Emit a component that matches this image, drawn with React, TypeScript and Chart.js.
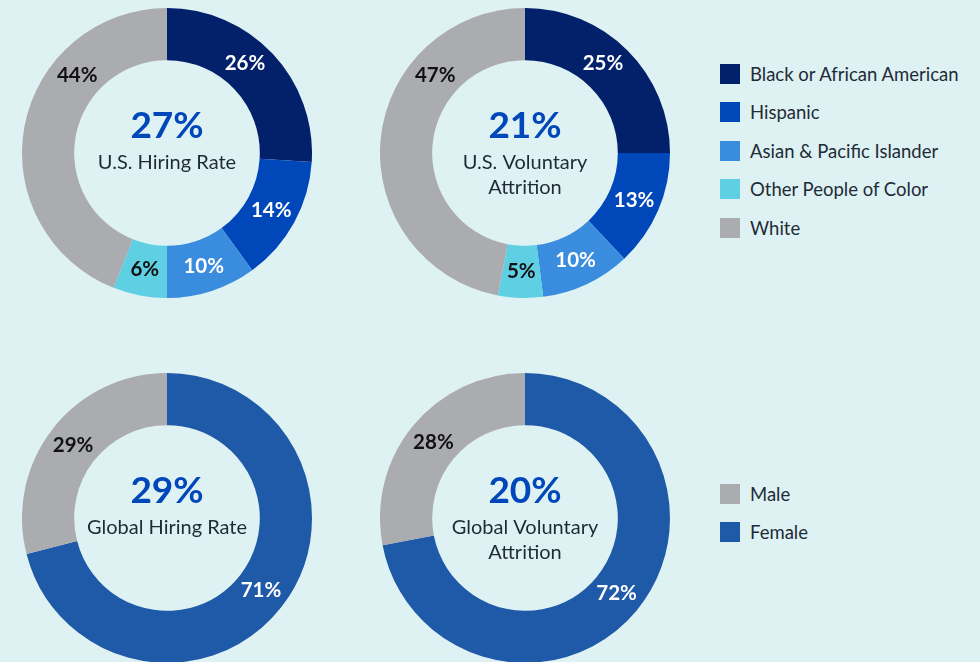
import React, { useEffect, useRef } from "react";
import { Chart, registerables } from "chart.js";

Chart.register(...registerables);

// ---------- data ----------
const raceCategories = [
  "Black or African American",
  "Hispanic",
  "Asian & Pacific Islander",
  "Other People of Color",
  "White",
];
const usHiringValues = [26, 14, 10, 6, 44];
const usAttritionValues = [25, 13, 10, 5, 47];

const genderCategories = ["Female", "Male"];
const globalHiringValues = [71, 29];
const globalAttritionValues = [72, 28];
const genderLegendOrder = ["Male", "Female"];

const centerValues = ["27%", "21%", "29%", "20%"];
const centerTitles = [
  ["U.S. Hiring Rate"],
  ["U.S. Voluntary", "Attrition"],
  ["Global Hiring Rate"],
  ["Global Voluntary", "Attrition"],
];

// ---------- styles ----------
const FONT = "Lato, 'Noto Sans', sans-serif";
const BG = "#dff2f3";
const raceColors = ["#03216b", "#0047ba", "#3a8dde", "#5fcfe3", "#abacb0"];
const raceLabelColors = ["#ffffff", "#ffffff", "#ffffff", "#111111", "#111111"];
const genderColorMap: Record<string, string> = { Female: "#1f5aa8", Male: "#abacb0" };
const genderLabelColorMap: Record<string, string> = { Female: "#ffffff", Male: "#111111" };

const donutTextPlugin = {
  id: "donutText",
  afterDatasetsDraw(chart: any, _args: any, opts: any) {
    const ctx = chart.ctx;
    const meta = chart.getDatasetMeta(0);
    const data = chart.data.datasets[0].data as number[];
    let cx = 0;
    let cy = 0;
    ctx.save();
    ctx.textAlign = "center";
    ctx.textBaseline = "middle";
    meta.data.forEach((arc: any, i: number) => {
      const p = arc.getProps(["x", "y", "startAngle", "endAngle", "innerRadius", "outerRadius"], true);
      cx = p.x;
      cy = p.y;
      const override = opts.labelAngles ? opts.labelAngles[i] : null;
      const ang =
        override != null ? -Math.PI / 2 + (override * Math.PI) / 180 : (p.startAngle + p.endAngle) / 2;
      const r = (p.innerRadius + p.outerRadius) / 2;
      ctx.font = `bold 20.5px ${FONT}`;
      ctx.fillStyle = opts.labelColors[i];
      ctx.fillText(`${data[i]}%`, p.x + Math.cos(ang) * r, p.y + Math.sin(ang) * r);
    });
    ctx.font = `bold 37px ${FONT}`;
    ctx.fillStyle = "#0047ba";
    ctx.fillText(opts.center, cx, cy - 27);
    ctx.font = `20px ${FONT}`;
    ctx.fillStyle = "#1e2b37";
    (opts.title as string[]).forEach((line, i) => {
      ctx.fillText(line, cx, cy + 10 + i * 25);
    });
    ctx.restore();
  },
};

type DonutProps = {
  labels: string[];
  values: number[];
  colors: string[];
  labelColors: string[];
  center: string;
  title: string[];
  labelAngles?: (number | null)[];
  left: number;
  top: number;
};

function Donut(props: DonutProps) {
  const ref = useRef<HTMLCanvasElement | null>(null);
  useEffect(() => {
    if (!ref.current) return;
    const chart = new Chart(ref.current, {
      type: "doughnut",
      data: {
        labels: props.labels,
        datasets: [
          {
            data: props.values,
            backgroundColor: props.colors,
            borderWidth: 0,
          },
        ],
      },
      options: {
        animation: false,
        responsive: false,
        maintainAspectRatio: false,
        cutout: "64%",
        layout: { padding: 0 },
        plugins: {
          legend: { display: false },
          tooltip: { enabled: false },
          donutText: {
            labelColors: props.labelColors,
            center: props.center,
            title: props.title,
            labelAngles: props.labelAngles || null,
          },
        } as any,
      },
      plugins: [donutTextPlugin],
    });
    return () => chart.destroy();
  }, []);
  return (
    <canvas
      ref={ref}
      width={290}
      height={290}
      style={{ position: "absolute", left: props.left, top: props.top, width: 290, height: 290 }}
    />
  );
}

function LegendList(props: { items: string[]; colors: string[]; left: number; top: number }) {
  return (
    <div style={{ position: "absolute", left: props.left, top: props.top }}>
      {props.items.map((item, i) => (
        <div
          key={item}
          style={{ display: "flex", alignItems: "center", height: 38.5, whiteSpace: "nowrap" }}
        >
          <div style={{ width: 20, height: 20, background: props.colors[i], marginRight: 10 }} />
          <span style={{ fontFamily: FONT, fontSize: 18.5, color: "#1e2b37" }}>{item}</span>
        </div>
      ))}
    </div>
  );
}

export default function App() {
  const genderColors = genderCategories.map((g) => genderColorMap[g]);
  const genderLabelColors = genderCategories.map((g) => genderLabelColorMap[g]);
  return (
    <div
      style={{
        position: "fixed",
        left: 0,
        top: 0,
        width: 980,
        height: 662,
        background: BG,
        overflow: "hidden",
      }}
    >
      <Donut
        labels={raceCategories}
        values={usHiringValues}
        colors={raceColors}
        labelColors={raceLabelColors}
        center={centerValues[0]}
        title={centerTitles[0]}
        labelAngles={[41, null, null, null, 311]}
        left={22}
        top={8}
      />
      <Donut
        labels={raceCategories}
        values={usAttritionValues}
        colors={raceColors}
        labelColors={raceLabelColors}
        center={centerValues[1]}
        title={centerTitles[1]}
        labelAngles={[41, null, null, null, 311]}
        left={380}
        top={8}
      />
      <Donut
        labels={genderCategories}
        values={globalHiringValues}
        colors={genderColors}
        labelColors={genderLabelColors}
        center={centerValues[2]}
        title={centerTitles[2]}
        left={22}
        top={373}
      />
      <Donut
        labels={genderCategories}
        values={globalAttritionValues}
        colors={genderColors}
        labelColors={genderLabelColors}
        center={centerValues[3]}
        title={centerTitles[3]}
        left={380}
        top={373}
      />
      <LegendList items={raceCategories} colors={raceColors} left={720} top={54.5} />
      <LegendList
        items={genderLegendOrder}
        colors={genderLegendOrder.map((g) => genderColorMap[g])}
        left={720}
        top={474.5}
      />
    </div>
  );
}
